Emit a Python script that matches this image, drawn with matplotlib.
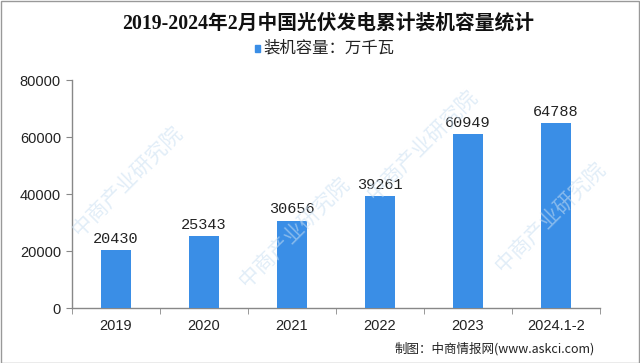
import matplotlib.pyplot as plt
from matplotlib.patches import Rectangle

plt.rcParams['font.family'] = ['Liberation Sans', 'Noto Sans CJK SC', 'DejaVu Sans']

# 数据
years = ['2019', '2020', '2021', '2022', '2023', '2024.1-2']
capacity = [20430, 25343, 30656, 39261, 60949, 64788]
yticks = [0, 20000, 40000, 60000, 80000]

bar_color = '#3a8ee6'

fig = plt.figure(figsize=(6.4, 3.63), dpi=100)
ax = fig.add_axes([0.1125, 0.1515, 0.825, 0.628])

# 水印
for (wx, wy) in [(0.2, 0.5), (0.46, 0.36), (0.66, 0.6), (0.86, 0.4)]:
    fig.text(wx, wy, '中商产业研究院', fontsize=15, color='#c9dff2', alpha=0.55,
             rotation=45, ha='center', va='center', zorder=0)

x = range(len(years))
ax.bar(x, capacity, width=0.33, color=bar_color, zorder=3)
for xi, v in zip(x, capacity):
    ax.text(xi, v + 1500, str(v), ha='center', va='bottom', fontsize=11,
            family=['Liberation Mono', 'DejaVu Sans'], color='#222222')

ax.set_xlim(-0.5, len(years) - 0.5)
ax.set_ylim(0, 80000)
ax.set_yticks(yticks)
ax.set_yticklabels([str(t) for t in yticks], fontsize=10.5, color='#222222')

ax.set_xticks(x)
ax.set_xticklabels(years, fontsize=10.5, color='#222222')
ax.tick_params(axis='x', length=0, pad=8)
ax.set_xticks([i + 0.5 for i in range(-1, len(years))], minor=True)
ax.tick_params(axis='x', which='minor', length=4, color='#888888')
ax.tick_params(axis='y', length=4, color='#888888', pad=4)

for s in ['top', 'right']:
    ax.spines[s].set_visible(False)
for s in ['left', 'bottom']:
    ax.spines[s].set_color('#888888')
    ax.spines[s].set_linewidth(1)
ax.set_facecolor('none')

fig.text(0.513, 0.935, '2019-2024年2月中国光伏发电累计装机容量统计', ha='center',
         va='center', fontsize=14.2, fontweight='bold',
         family=['Liberation Serif', 'Noto Sans CJK SC'], color='#111111')

fig.patches.append(Rectangle((0.398, 0.858), 0.009, 0.017, transform=fig.transFigure,
                             color=bar_color))
fig.text(0.412, 0.867, '装机容量：万千瓦', ha='left', va='center', fontsize=11.8,
         family=['Noto Sans CJK SC'], color='#222222')

fig.text(0.93, 0.04, '制图：中商情报网(www.askci.com)', ha='right', va='center',
         fontsize=9, family=['Noto Sans CJK SC', 'DejaVu Sans'], color='#222222')

fig.patches.append(Rectangle((0.001, 0.001), 0.998, 0.996, transform=fig.transFigure,
                             fill=False, edgecolor='#999999', linewidth=1))

fig.savefig('out.png', dpi=100)
